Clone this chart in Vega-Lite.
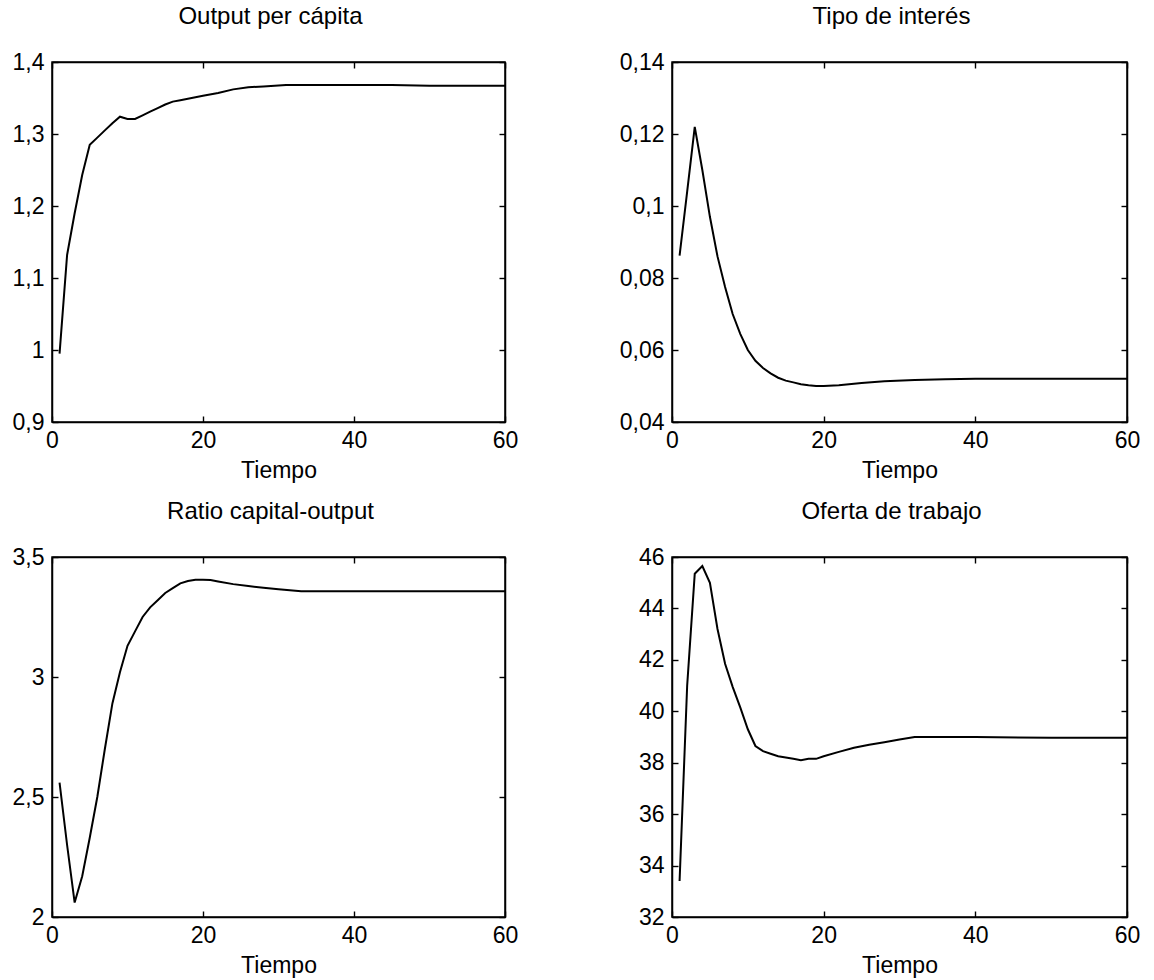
{
  "$schema": "https://vega.github.io/schema/vega-lite/v6.json",
  "background": "white",
  "padding": {"left": 11, "top": 4, "right": 10, "bottom": 2},
  "config": {
    "font": "Liberation Sans",
    "view": {"stroke": "black", "strokeWidth": 1.5},
    "axis": {"labelFont": "Liberation Sans", "labelFontSize": 23, "labelColor": "black", "labelFlush": false, "labelOverlap": false, "titleFont": "Liberation Sans", "titleFontSize": 23, "titleFontWeight": "normal", "titleColor": "black", "domainColor": "black", "domainWidth": 1.5, "tickColor": "black", "tickWidth": 1.4, "grid": false},
    "title": {"font": "Liberation Sans", "fontSize": 24, "fontWeight": "normal", "color": "black", "offset": 22, "dx": -8},
    "line": {"color": "black", "strokeWidth": 2}
  },
  "datasets": {
    "output": [
      {"t": 1, "v": 0.995}, {"t": 2, "v": 1.132}, {"t": 3, "v": 1.19}, {"t": 4, "v": 1.243}, {"t": 5, "v": 1.285},
      {"t": 6, "v": 1.295}, {"t": 7, "v": 1.305}, {"t": 8, "v": 1.315}, {"t": 9, "v": 1.324}, {"t": 10, "v": 1.321},
      {"t": 11, "v": 1.321}, {"t": 12, "v": 1.326}, {"t": 13, "v": 1.331}, {"t": 14, "v": 1.336}, {"t": 15, "v": 1.341},
      {"t": 16, "v": 1.345}, {"t": 17, "v": 1.347}, {"t": 18, "v": 1.349}, {"t": 19, "v": 1.351}, {"t": 20, "v": 1.353},
      {"t": 22, "v": 1.357}, {"t": 24, "v": 1.362}, {"t": 26, "v": 1.365}, {"t": 28, "v": 1.366}, {"t": 31, "v": 1.368},
      {"t": 35, "v": 1.368}, {"t": 40, "v": 1.368}, {"t": 45, "v": 1.368}, {"t": 50, "v": 1.367}, {"t": 55, "v": 1.367}, {"t": 60, "v": 1.367}
    ],
    "interes": [
      {"t": 1, "v": 0.0862}, {"t": 2, "v": 0.104}, {"t": 3, "v": 0.122}, {"t": 4, "v": 0.110}, {"t": 5, "v": 0.097},
      {"t": 6, "v": 0.086}, {"t": 7, "v": 0.0775}, {"t": 8, "v": 0.070}, {"t": 9, "v": 0.0645}, {"t": 10, "v": 0.060},
      {"t": 11, "v": 0.057}, {"t": 12, "v": 0.055}, {"t": 13, "v": 0.0535}, {"t": 14, "v": 0.0523}, {"t": 15, "v": 0.0515},
      {"t": 16, "v": 0.051}, {"t": 17, "v": 0.0505}, {"t": 18, "v": 0.0502}, {"t": 19, "v": 0.050}, {"t": 20, "v": 0.050},
      {"t": 22, "v": 0.0502}, {"t": 25, "v": 0.0508}, {"t": 28, "v": 0.0513}, {"t": 32, "v": 0.0517}, {"t": 36, "v": 0.0519},
      {"t": 40, "v": 0.052}, {"t": 50, "v": 0.052}, {"t": 60, "v": 0.052}
    ],
    "ratio": [
      {"t": 1, "v": 2.56}, {"t": 2, "v": 2.30}, {"t": 3, "v": 2.06}, {"t": 4, "v": 2.17}, {"t": 5, "v": 2.33},
      {"t": 6, "v": 2.50}, {"t": 7, "v": 2.70}, {"t": 8, "v": 2.89}, {"t": 9, "v": 3.02}, {"t": 10, "v": 3.13},
      {"t": 11, "v": 3.19}, {"t": 12, "v": 3.25}, {"t": 13, "v": 3.29}, {"t": 14, "v": 3.32}, {"t": 15, "v": 3.35},
      {"t": 16, "v": 3.37}, {"t": 17, "v": 3.39}, {"t": 18, "v": 3.40}, {"t": 19, "v": 3.405}, {"t": 20, "v": 3.405},
      {"t": 21, "v": 3.404}, {"t": 22, "v": 3.398}, {"t": 24, "v": 3.387}, {"t": 26, "v": 3.379}, {"t": 28, "v": 3.372},
      {"t": 30, "v": 3.366}, {"t": 33, "v": 3.357}, {"t": 40, "v": 3.357}, {"t": 50, "v": 3.357}, {"t": 60, "v": 3.357}
    ],
    "trabajo": [
      {"t": 1, "v": 33.4}, {"t": 2, "v": 41.0}, {"t": 3, "v": 45.35}, {"t": 4, "v": 45.65}, {"t": 5, "v": 45.0},
      {"t": 6, "v": 43.2}, {"t": 7, "v": 41.85}, {"t": 8, "v": 40.95}, {"t": 9, "v": 40.15}, {"t": 10, "v": 39.3},
      {"t": 11, "v": 38.65}, {"t": 12, "v": 38.45}, {"t": 13, "v": 38.35}, {"t": 14, "v": 38.25}, {"t": 15, "v": 38.2},
      {"t": 16, "v": 38.15}, {"t": 17, "v": 38.1}, {"t": 18, "v": 38.15}, {"t": 19, "v": 38.15}, {"t": 20, "v": 38.25},
      {"t": 22, "v": 38.42}, {"t": 24, "v": 38.58}, {"t": 26, "v": 38.7}, {"t": 28, "v": 38.8}, {"t": 30, "v": 38.9},
      {"t": 32, "v": 39.0}, {"t": 40, "v": 39.0}, {"t": 50, "v": 38.97}, {"t": 60, "v": 38.97}
    ]
  },
  "columns": 2,
  "bounds": "flush",
  "spacing": {"row": 135, "column": 167},
  "concat": [
    {
      "title": "Output per cápita",
      "width": 453, "height": 360,
      "data": {"name": "output"},
      "layer": [
        {"mark": "line", "encoding": {
          "x": {"field": "t", "type": "quantitative", "scale": {"domain": [0, 60], "nice": false, "zero": false}, "axis": {"values": [0, 20, 40, 60], "tickSize": -6, "labelPadding": 13, "title": "Tiempo", "titlePadding": 7}},
          "y": {"field": "v", "type": "quantitative", "scale": {"domain": [0.9, 1.4], "nice": false, "zero": false}, "axis": {"values": [0.9, 1.0, 1.1, 1.2, 1.3, 1.4], "tickSize": -6, "labelPadding": 14, "title": null, "labelExpr": "replace(format(datum.value, '~g'), '.', ',')"}}
        }},
        {"mark": {"type": "line", "opacity": 0}, "encoding": {
          "x": {"field": "t", "type": "quantitative", "axis": {"orient": "top", "values": [0, 20, 40, 60], "tickSize": -6, "labels": false, "title": null}},
          "y": {"field": "v", "type": "quantitative", "axis": {"orient": "right", "values": [0.9, 1.0, 1.1, 1.2, 1.3, 1.4], "tickSize": -6, "labels": false, "title": null}}
        }}
      ],
      "resolve": {"axis": {"x": "independent", "y": "independent"}}
    },
    {
      "title": "Tipo de interés",
      "width": 455, "height": 360,
      "data": {"name": "interes"},
      "layer": [
        {"mark": "line", "encoding": {
          "x": {"field": "t", "type": "quantitative", "scale": {"domain": [0, 60], "nice": false, "zero": false}, "axis": {"values": [0, 20, 40, 60], "tickSize": -6, "labelPadding": 13, "title": "Tiempo", "titlePadding": 7}},
          "y": {"field": "v", "type": "quantitative", "scale": {"domain": [0.04, 0.14], "nice": false, "zero": false}, "axis": {"values": [0.04, 0.06, 0.08, 0.1, 0.12, 0.14], "tickSize": -6, "labelPadding": 14, "title": null, "labelExpr": "replace(format(datum.value, '~g'), '.', ',')"}}
        }},
        {"mark": {"type": "line", "opacity": 0}, "encoding": {
          "x": {"field": "t", "type": "quantitative", "axis": {"orient": "top", "values": [0, 20, 40, 60], "tickSize": -6, "labels": false, "title": null}},
          "y": {"field": "v", "type": "quantitative", "axis": {"orient": "right", "values": [0.04, 0.06, 0.08, 0.1, 0.12, 0.14], "tickSize": -6, "labels": false, "title": null}}
        }}
      ],
      "resolve": {"axis": {"x": "independent", "y": "independent"}}
    },
    {
      "title": "Ratio capital-output",
      "width": 453, "height": 360,
      "data": {"name": "ratio"},
      "layer": [
        {"mark": "line", "encoding": {
          "x": {"field": "t", "type": "quantitative", "scale": {"domain": [0, 60], "nice": false, "zero": false}, "axis": {"values": [0, 20, 40, 60], "tickSize": -6, "labelPadding": 13, "title": "Tiempo", "titlePadding": 7}},
          "y": {"field": "v", "type": "quantitative", "scale": {"domain": [2, 3.5], "nice": false, "zero": false}, "axis": {"values": [2, 2.5, 3, 3.5], "tickSize": -6, "labelPadding": 14, "title": null, "labelExpr": "replace(format(datum.value, '~g'), '.', ',')"}}
        }},
        {"mark": {"type": "line", "opacity": 0}, "encoding": {
          "x": {"field": "t", "type": "quantitative", "axis": {"orient": "top", "values": [0, 20, 40, 60], "tickSize": -6, "labels": false, "title": null}},
          "y": {"field": "v", "type": "quantitative", "axis": {"orient": "right", "values": [2, 2.5, 3, 3.5], "tickSize": -6, "labels": false, "title": null}}
        }}
      ],
      "resolve": {"axis": {"x": "independent", "y": "independent"}}
    },
    {
      "title": "Oferta de trabajo",
      "width": 455, "height": 360,
      "data": {"name": "trabajo"},
      "layer": [
        {"mark": "line", "encoding": {
          "x": {"field": "t", "type": "quantitative", "scale": {"domain": [0, 60], "nice": false, "zero": false}, "axis": {"values": [0, 20, 40, 60], "tickSize": -6, "labelPadding": 13, "title": "Tiempo", "titlePadding": 7}},
          "y": {"field": "v", "type": "quantitative", "scale": {"domain": [32, 46], "nice": false, "zero": false}, "axis": {"values": [32, 34, 36, 38, 40, 42, 44, 46], "tickSize": -6, "labelPadding": 14, "title": null}}
        }},
        {"mark": {"type": "line", "opacity": 0}, "encoding": {
          "x": {"field": "t", "type": "quantitative", "axis": {"orient": "top", "values": [0, 20, 40, 60], "tickSize": -6, "labels": false, "title": null}},
          "y": {"field": "v", "type": "quantitative", "axis": {"orient": "right", "values": [32, 34, 36, 38, 40, 42, 44, 46], "tickSize": -6, "labels": false, "title": null}}
        }}
      ],
      "resolve": {"axis": {"x": "independent", "y": "independent"}}
    }
  ]
}
